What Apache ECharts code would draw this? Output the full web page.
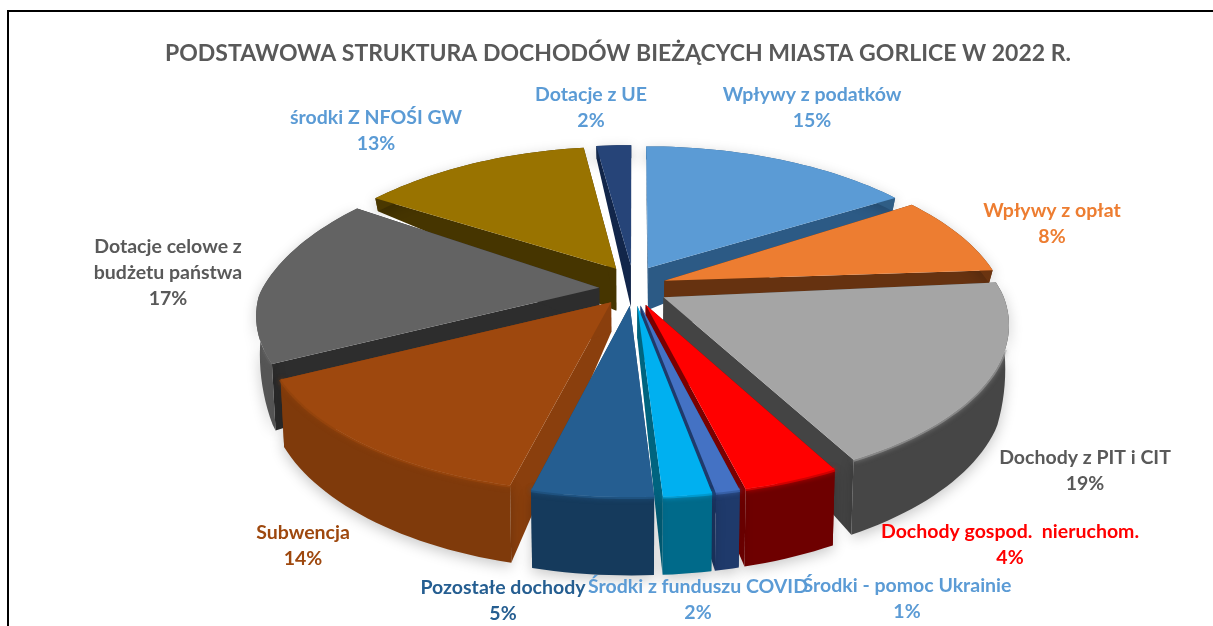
<!DOCTYPE html>
<html>
<head>
<meta charset="utf-8">
<style>
  html, body { margin: 0; padding: 0; background: #fff; }
  #chart { width: 1213px; height: 626px; }
</style>
<script src="https://cdn.jsdelivr.net/npm/echarts@6/dist/echarts.min.js"></script>
</head>
<body>
<div id="chart"></div>
<script>
var categories = ['Wpływy z podatków', 'Wpływy z opłat', 'Dochody z PIT i CIT', 'Dochody gospod.  nieruchom.',
  'Środki - pomoc Ukrainie', 'Środki z funduszu COVID', 'Pozostałe dochody', 'Subwencja',
  'Dotacje celowe z\nbudżetu państwa', 'środki Z NFOŚI GW', 'Dotacje z UE'];
var shares = [15, 8, 19, 4, 1, 2, 5, 14, 17, 13, 2];

var topColors = ['#5B9BD5', '#ED7D31', '#A5A5A5', '#FF0000', '#4472C4', '#00B0F0', '#255E91', '#9E480E', '#636363', '#997300', '#264478'];
var arcColors = ['#2F5D85', '#6B3410', '#464646', '#6E0000', '#1F3A6B', '#006A8A', '#153A5C', '#7F3A0B', '#555555', '#4A3800', '#152A4D'];
var cutColors = ['#2C5A85', '#663210', '#444444', '#7A0000', '#1F3A6B', '#00647F', '#1A4468', '#8A3F0D', '#2D2D2D', '#463500', '#12264A'];
var labelColors = ['#5B9BD5', '#ED7D31', '#595959', '#FF0000', '#5B9BD5', '#5B9BD5', '#255E91', '#9E480E', '#595959', '#5B9BD5', '#5B9BD5'];
var labelCenters = [[812, 108], [1052, 224], [1085, 471], [1010, 545], [907, 599], [698, 600], [503, 601], [303, 546], [168, 273], [376, 131], [591, 108]];

var cx = 633, cy = 295, rx = 340, ry = 156.5, explode = 0.1;
var total = shares.reduce(function (a, b) { return a + b; }, 0);

function project(u, v) {
  var back = u < 0 ? 0.2 : 0.16;
  var sx = v < 0 ? 1 / (1 - back * v) : 1 / (1 - 0.13 * v);
  return [cx + rx * u * sx, cy + ry * v / (1 - 0.135 * v)];
}
// dolna krawedz plastra, wysokosc rosnie ku przodowi
function drop(p, minH) {
  var y = p[1], h;
  if (y < 275) h = 13;
  else if (y < 360) h = 13 + (y - 275) * 0.62;
  else h = 66 + (y - 360) * 0.09;
  return [cx + (p[0] - cx) * 0.99, y + Math.max(h, minH || 0)];
}

function sliceShapes(index, value) {
  var before = 0;
  for (var i = 0; i < index; i++) before += shares[i];
  var a0 = before / total * Math.PI * 2;
  var a1 = (before + value) / total * Math.PI * 2;
  var mid = (a0 + a1) / 2;
  var ox = Math.sin(mid) * explode, oy = -Math.cos(mid) * explode;
  // czubki z tylu sa mocniej odsuniete od srodka
  var tip = project(ox, oy < 0 ? oy * 1.6 : oy);
  tip[1] -= 5;
  var tipLow = drop(tip, oy < 0 ? 42 : 0);
  var arc = [];
  var steps = Math.max(4, Math.ceil((a1 - a0) / 0.03));
  for (var j = 0; j <= steps; j++) {
    var a = a0 + (a1 - a0) * j / steps;
    arc.push(project(ox + Math.sin(a), oy - Math.cos(a)));
  }
  var arcLow = arc.map(function (p) { return drop(p); }).reverse();
  var base = Math.round((oy + 0.2) * 1000) * 10;
  function poly(points, fill, z, extra) {
    var style = { fill: fill };
    if (extra) for (var k in extra) style[k] = extra[k];
    return { type: 'polygon', shape: { points: points }, style: style, z2: base + z };
  }
  var first = arc[0], last = arc[arc.length - 1];
  var children = [
    poly([tip, first, drop(first), tipLow], cutColors[index], 1),
    poly([tip, last, drop(last), tipLow], cutColors[index], 1),
    poly(arc.concat(arcLow), arcColors[index], 2, { shadowBlur: 14, shadowColor: 'rgba(0,0,0,0.22)', shadowOffsetY: 4 })
  ];
  // miekka krawedz miedzy wierzchem a sciana, tylko z przodu
  var rim = arc.filter(function (p) { return p[1] > cy + 50; });
  if (rim.length > 1) {
    children.push({
      type: 'polyline', shape: { points: rim }, z2: base + 3,
      style: { stroke: topColors[index], lineWidth: 4, fill: null, opacity: 0.55, shadowBlur: 5, shadowColor: topColors[index] }
    });
  }
  children.push(poly([tip].concat(arc), topColors[index], 4));
  return { type: 'group', children: children };
}

var labelTexts = categories.map(function (name, i) {
  return {
    type: 'text', x: labelCenters[i][0], y: labelCenters[i][1], z: 10,
    style: {
      text: name + '\n' + shares[i] + '%', fill: labelColors[i],
      font: 'bold 19.5px Lato', lineHeight: 26, align: 'center', verticalAlign: 'middle'
    }
  };
});

var chart = echarts.init(document.getElementById('chart'));
chart.setOption({
  animation: false,
  backgroundColor: '#ffffff',
  title: {
    text: 'PODSTAWOWA STRUKTURA DOCHODÓW BIEŻĄCYCH MIASTA GORLICE W 2022 R.',
    left: 613, top: 49, textAlign: 'center', textVerticalAlign: 'middle',
    textStyle: { color: '#595959', fontFamily: 'Lato', fontWeight: 'bold', fontSize: 23 }
  },
  graphic: [
    { type: 'polyline', shape: { points: [[8, 626], [8, 11], [1213, 11]] }, style: { stroke: '#000', lineWidth: 2, fill: 'none' } }
  ].concat(labelTexts),
  series: [{
    type: 'custom',
    coordinateSystem: 'none',
    silent: true,
    data: shares,
    renderItem: function (params, api) {
      return sliceShapes(params.dataIndex, api.value(0));
    }
  }]
});
</script>
</body>
</html>
